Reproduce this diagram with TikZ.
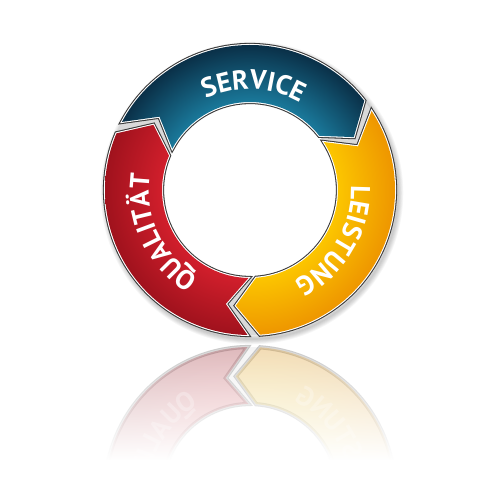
\documentclass[tikz,border=0pt]{standalone}
\usepackage{fontspec}
\setsansfont{PT Sans}
\usetikzlibrary{decorations.text,fadings}

\definecolor{blueO}{HTML}{0A3048}
\definecolor{blueI}{HTML}{1A7A9C}
\definecolor{yellowO}{HTML}{EE9600}
\definecolor{yellowI}{HTML}{FCC600}
\definecolor{redO}{HTML}{A0121D}
\definecolor{redI}{HTML}{D21F2C}
\colorlet{ringin}{white}
\colorlet{ringout}{white}
\pgfdeclareradialshading[ringin,ringout]{ringshade}{\pgfpoint{0bp}{0bp}}{color(0bp)=(ringin); color(15bp)=(ringin); color(25bp)=(ringout); color(50bp)=(ringout)}
\tikzfading[name=fadedown, top color=transparent!100, bottom color=transparent!0]

\newcommand\Seg[2]{(#1:145) arc[start angle=#1,end angle=#2,radius=145] -- ({#2-11}:116.5) -- (#2:88) arc[start angle=#2,end angle=#1,radius=88] -- ({#1-11}:116.5) -- cycle}
\newcommand\Label[3]{\path[decorate,decoration={text along path,text color=white,text align=center,text={|\sffamily\bfseries\fontsize{15.5}{15.5}\selectfont|#3}}] ({#1+#2}:101) arc[start angle={#1+#2},end angle={#1-#2},radius=101];}

\newcommand\Ring{%
	\fill[gray!30,even odd rule] (0,0) circle[radius=145] circle[radius=88];
	\foreach \a/\b/\ci/\co in {152/38/blueI/blueO,33/-86/yellowI/yellowO,-91/-203/redI/redO}{
		\draw[gray!45!black,line width=2.4pt] \Seg{\a}{\b};
		\draw[white,line width=1.2pt] \Seg{\a}{\b};
		\begin{scope}
			\clip \Seg{\a}{\b};
			\colorlet{ringin}{\ci}
			\colorlet{ringout}{\co}
			\shade[shading=ringshade] (0,0) circle[radius=145];
		\end{scope}
	}
	\Label{88}{62}{SERVICE}
	\Label{-31}{62}{LEISTUNG}
	\Label{205.5}{62}{QUALITÄT}
}

\begin{document}
\begin{tikzpicture}[x=0.02cm,y=0.02cm]
	\useasboundingbox[fill=white] (0,0) rectangle (500,500);
	\foreach \w in {1,...,6}
		\draw[black,opacity=0.035,line width=\w pt] (252,307) circle[radius=146];
	\begin{scope}[shift={(250,310)}]
		\Ring
	\end{scope}
	\begin{scope}[transform canvas={shift={(0,318)},yscale=-1},opacity=0.28]
		\begin{scope}[shift={(250,310)}]
			\Ring
		\end{scope}
	\end{scope}
	\fill[white,path fading=fadedown] (0,40) rectangle (500,160);
	\fill[white] (0,0) rectangle (500,40);
\end{tikzpicture}
\end{document}
